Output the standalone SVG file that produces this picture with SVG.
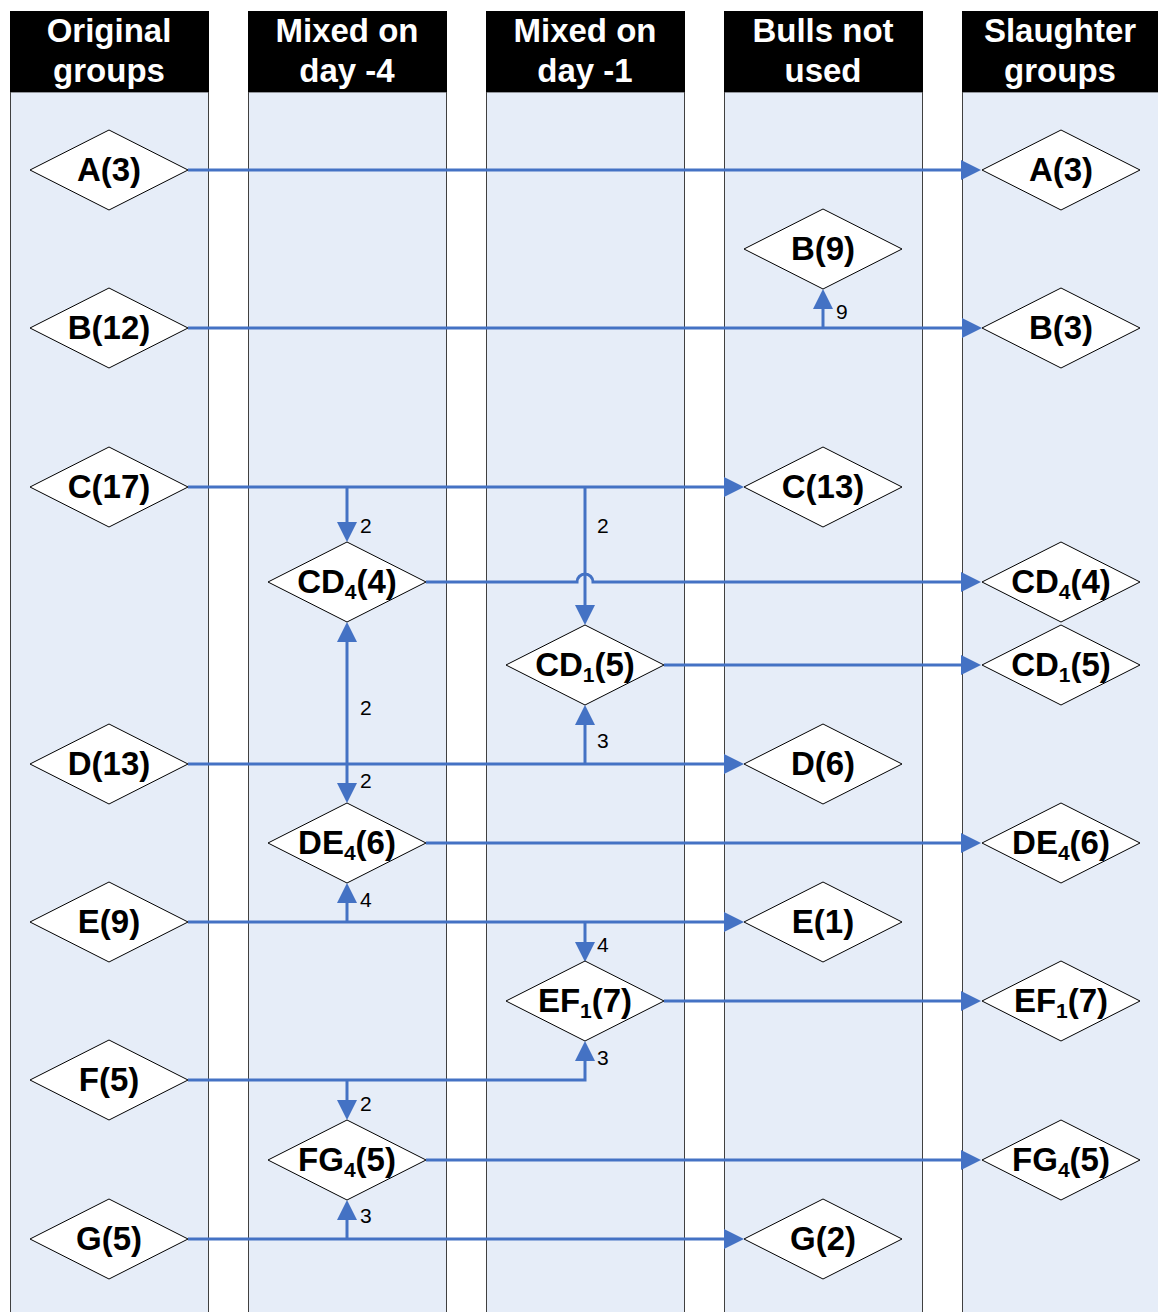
<svg xmlns="http://www.w3.org/2000/svg" width="1158" height="1312" viewBox="0 0 1158 1312">
<style>
.col{fill:#E6EDF8;stroke:#404040;stroke-width:1}
.hdr{fill:#000}
.ht{font-family:"Liberation Sans",Arial,sans-serif;font-weight:bold;font-size:33px;fill:#fff;text-anchor:middle}
.dm{fill:#fff;stroke:#000;stroke-width:1}
.nt{font-family:"Liberation Sans",Arial,sans-serif;font-weight:bold;font-size:33px;fill:#000;text-anchor:middle}
.sub{font-size:21px}
.cn{fill:none;stroke:#4472C4;stroke-width:3}
.lb{font-family:"Liberation Sans",Arial,sans-serif;font-size:21px;fill:#000}
</style>
<defs>
<marker id="ah" markerUnits="userSpaceOnUse" markerWidth="20" markerHeight="20" refX="10" refY="10" orient="auto" viewBox="0 0 20 20">
<path d="M0,0 L20,10 L0,20 z" fill="#4472C4"/>
</marker>
</defs>
<rect width="1158" height="1312" fill="#fff"/>
<g id="lanes">
<rect class="col" x="10.5" y="92" width="198" height="1230"/>
<rect class="col" x="248.5" y="92" width="198" height="1230"/>
<rect class="col" x="486.5" y="92" width="198" height="1230"/>
<rect class="col" x="724.5" y="92" width="198" height="1230"/>
<rect class="col" x="962.5" y="92" width="205" height="1230"/>
<rect class="hdr" x="10" y="11" width="199" height="81"/>
<rect class="hdr" x="248" y="11" width="199" height="81"/>
<rect class="hdr" x="486" y="11" width="199" height="81"/>
<rect class="hdr" x="724" y="11" width="199" height="81"/>
<rect class="hdr" x="962" y="11" width="196" height="81"/>
<text class="ht" x="109" y="42">Original</text><text class="ht" x="109" y="82">groups</text>
<text class="ht" x="347" y="42">Mixed on</text><text class="ht" x="347" y="82">day -4</text>
<text class="ht" x="585" y="42">Mixed on</text><text class="ht" x="585" y="82">day -1</text>
<text class="ht" x="823" y="42">Bulls not</text><text class="ht" x="823" y="82">used</text>
<text class="ht" x="1060" y="42">Slaughter</text><text class="ht" x="1060" y="82">groups</text>
</g>
<g id="connectors">
<path class="cn" d="M188,170 H971" marker-end="url(#ah)"/>
<path class="cn" d="M188,328 H972" marker-end="url(#ah)"/>
<path class="cn" d="M823,328 V299" marker-end="url(#ah)"/>
<path class="cn" d="M188,487 H734" marker-end="url(#ah)"/>
<path class="cn" d="M347,487 V532" marker-end="url(#ah)"/>
<path class="cn" d="M585,487 V615" marker-end="url(#ah)"/>
<path class="cn" d="M426,582 H577 A8,8 0 0 1 593,582 H971" marker-end="url(#ah)"/>
<path class="cn" d="M664,665 H971" marker-end="url(#ah)"/>
<path class="cn" d="M188,764 H734" marker-end="url(#ah)"/>
<path class="cn" d="M585,764 V715" marker-end="url(#ah)"/>
<path class="cn" d="M347,764 V632" marker-end="url(#ah)"/>
<path class="cn" d="M347,764 V793" marker-end="url(#ah)"/>
<path class="cn" d="M426,843 H971" marker-end="url(#ah)"/>
<path class="cn" d="M188,922 H734" marker-end="url(#ah)"/>
<path class="cn" d="M347,922 V893" marker-end="url(#ah)"/>
<path class="cn" d="M585,922 V952" marker-end="url(#ah)"/>
<path class="cn" d="M664,1001 H971" marker-end="url(#ah)"/>
<path class="cn" d="M188,1080 H585 V1051" marker-end="url(#ah)"/>
<path class="cn" d="M347,1080 V1110" marker-end="url(#ah)"/>
<path class="cn" d="M426,1160 H971" marker-end="url(#ah)"/>
<path class="cn" d="M188,1239 H734" marker-end="url(#ah)"/>
<path class="cn" d="M347,1239 V1210" marker-end="url(#ah)"/>
<text class="lb" x="836" y="319">9</text>
<text class="lb" x="360" y="533">2</text>
<text class="lb" x="597" y="533">2</text>
<text class="lb" x="360" y="715">2</text>
<text class="lb" x="597" y="748">3</text>
<text class="lb" x="360" y="788">2</text>
<text class="lb" x="360" y="907">4</text>
<text class="lb" x="597" y="952">4</text>
<text class="lb" x="597" y="1065">3</text>
<text class="lb" x="360" y="1111">2</text>
<text class="lb" x="360" y="1223">3</text>
</g>
<g id="node-A">
<polygon class="dm" points="30,170 109,130 188,170 109,210"/><text class="nt" x="109" y="181">A(3)</text>
</g>
<g id="node-B">
<polygon class="dm" points="30,328 109,288 188,328 109,368"/><text class="nt" x="109" y="339">B(12)</text>
</g>
<g id="node-C">
<polygon class="dm" points="30,487 109,447 188,487 109,527"/><text class="nt" x="109" y="498">C(17)</text>
</g>
<g id="node-D">
<polygon class="dm" points="30,764 109,724 188,764 109,804"/><text class="nt" x="109" y="775">D(13)</text>
</g>
<g id="node-E">
<polygon class="dm" points="30,922 109,882 188,922 109,962"/><text class="nt" x="109" y="933">E(9)</text>
</g>
<g id="node-F">
<polygon class="dm" points="30,1080 109,1040 188,1080 109,1120"/><text class="nt" x="109" y="1091">F(5)</text>
</g>
<g id="node-G">
<polygon class="dm" points="30,1239 109,1199 188,1239 109,1279"/><text class="nt" x="109" y="1250">G(5)</text>
</g>
<g id="node-CD4">
<polygon class="dm" points="268,582 347,542 426,582 347,622"/><text class="nt" x="347" y="593">CD<tspan class="sub" dy="6">4</tspan><tspan dy="-6">(4)</tspan></text>
</g>
<g id="node-DE4">
<polygon class="dm" points="268,843 347,803 426,843 347,883"/><text class="nt" x="347" y="854">DE<tspan class="sub" dy="6">4</tspan><tspan dy="-6">(6)</tspan></text>
</g>
<g id="node-FG4">
<polygon class="dm" points="268,1160 347,1120 426,1160 347,1200"/><text class="nt" x="347" y="1171">FG<tspan class="sub" dy="6">4</tspan><tspan dy="-6">(5)</tspan></text>
</g>
<g id="node-CD1">
<polygon class="dm" points="506,665 585,625 664,665 585,705"/><text class="nt" x="585" y="676">CD<tspan class="sub" dy="6">1</tspan><tspan dy="-6">(5)</tspan></text>
</g>
<g id="node-EF1">
<polygon class="dm" points="506,1001 585,961 664,1001 585,1041"/><text class="nt" x="585" y="1012">EF<tspan class="sub" dy="6">1</tspan><tspan dy="-6">(7)</tspan></text>
</g>
<g id="node-B9">
<polygon class="dm" points="744,249 823,209 902,249 823,289"/><text class="nt" x="823" y="260">B(9)</text>
</g>
<g id="node-C13">
<polygon class="dm" points="744,487 823,447 902,487 823,527"/><text class="nt" x="823" y="498">C(13)</text>
</g>
<g id="node-D6">
<polygon class="dm" points="744,764 823,724 902,764 823,804"/><text class="nt" x="823" y="775">D(6)</text>
</g>
<g id="node-E1">
<polygon class="dm" points="744,922 823,882 902,922 823,962"/><text class="nt" x="823" y="933">E(1)</text>
</g>
<g id="node-G2">
<polygon class="dm" points="744,1239 823,1199 902,1239 823,1279"/><text class="nt" x="823" y="1250">G(2)</text>
</g>
<g id="node-A3s">
<polygon class="dm" points="982,170 1061,130 1140,170 1061,210"/><text class="nt" x="1061" y="181">A(3)</text>
</g>
<g id="node-B3s">
<polygon class="dm" points="982,328 1061,288 1140,328 1061,368"/><text class="nt" x="1061" y="339">B(3)</text>
</g>
<g id="node-CD4s">
<polygon class="dm" points="982,582 1061,542 1140,582 1061,622"/><text class="nt" x="1061" y="593">CD<tspan class="sub" dy="6">4</tspan><tspan dy="-6">(4)</tspan></text>
</g>
<g id="node-CD1s">
<polygon class="dm" points="982,665 1061,625 1140,665 1061,705"/><text class="nt" x="1061" y="676">CD<tspan class="sub" dy="6">1</tspan><tspan dy="-6">(5)</tspan></text>
</g>
<g id="node-DE4s">
<polygon class="dm" points="982,843 1061,803 1140,843 1061,883"/><text class="nt" x="1061" y="854">DE<tspan class="sub" dy="6">4</tspan><tspan dy="-6">(6)</tspan></text>
</g>
<g id="node-EF1s">
<polygon class="dm" points="982,1001 1061,961 1140,1001 1061,1041"/><text class="nt" x="1061" y="1012">EF<tspan class="sub" dy="6">1</tspan><tspan dy="-6">(7)</tspan></text>
</g>
<g id="node-FG4s">
<polygon class="dm" points="982,1160 1061,1120 1140,1160 1061,1200"/><text class="nt" x="1061" y="1171">FG<tspan class="sub" dy="6">4</tspan><tspan dy="-6">(5)</tspan></text>
</g>
</svg>
